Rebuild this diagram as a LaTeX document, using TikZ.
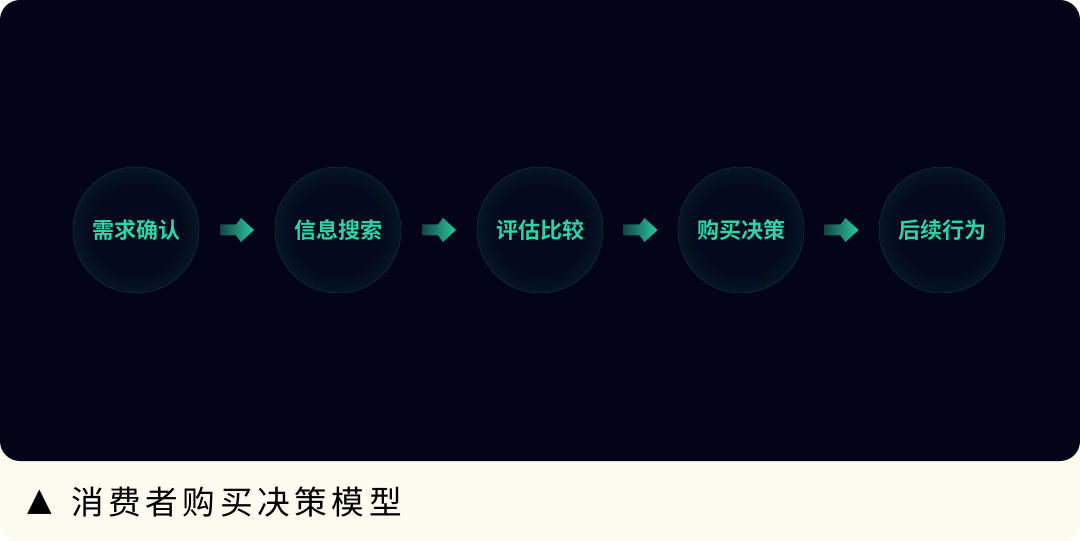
\documentclass[tikz,border=0pt]{standalone}
\usepackage{fontspec}
\usetikzlibrary{calc}
\newfontfamily\cjkbold{Noto Sans CJK SC Bold}
\newfontfamily\cjkcap[LetterSpace=14]{Noto Sans CJK SC}
\newfontfamily\symfont{DejaVu Sans}
\definecolor{bgdark}{HTML}{040418}
\definecolor{cream}{HTML}{FDFCF0}
\definecolor{teal}{HTML}{2ED3A6}
\definecolor{rimc}{HTML}{0D323B}
\definecolor{corec}{HTML}{040A1D}
\pgfdeclareradialshading{glowsh}{\pgfpoint{0bp}{0bp}}{color(0bp)=(corec); color(18bp)=(corec); color(44bp)=(rimc); color(50bp)=(rimc)}
\pgfdeclarehorizontalshading{arrowsh}{100bp}{color(0bp)=(bgdark); color(78bp)=(teal); color(100bp)=(teal)}
\tikzset{
  stage/.style={circle, minimum size=126*0.75pt, inner sep=0pt, shading=glowsh, draw=rimc!92!teal, line width=0.3pt,
     text=teal, font=\cjkbold\fontsize{16.5pt}{18pt}\selectfont},
  flowarrow/.style={shading=arrowsh, draw=none}
}
\begin{document}
\begin{tikzpicture}[x=0.75pt,y=-0.75pt]
\useasboundingbox (0,0) rectangle (1080,541);
\fill[white] (0,0) rectangle (1080,541);
\fill[cream, rounded corners=15pt] (0,0) rectangle (1080,541);
\fill[bgdark, rounded corners=15pt] (0,0) rectangle (1080,461);
\node[stage] (c1) at (136,230) {需求确认};
\node[stage] (c2) at (338,230) {信息搜索};
\node[stage] (c3) at (540,230) {评估比较};
\node[stage] (c4) at (741,230) {购买决策};
\node[stage] (c5) at (942,230) {后续行为};
\foreach \a/\b in {c1/c2,c2/c3,c3/c4,c4/c5}{
  \path[flowarrow, shift={($(\a)!0.5!(\b)$)}]
    (-17,-5.5) -- (-1,-5.5) -- (4,-12) -- (17,0) -- (4,12) -- (-1,5.5) -- (-17,5.5) -- cycle;
}
\node[font=\symfont\fontsize{24pt}{26pt}\selectfont, inner sep=0pt] (tri) at (40,502) {▲};
\node[font=\cjkcap\fontsize{24.5pt}{26pt}\selectfont, anchor=west, inner sep=0pt, text=black] (cap) at (71,502) {消费者购买决策模型};
\end{tikzpicture}
\end{document}
